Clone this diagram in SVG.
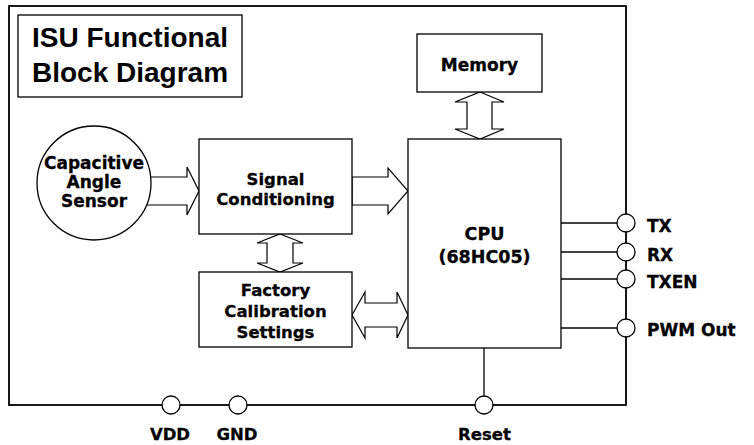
<svg xmlns="http://www.w3.org/2000/svg" width="754" height="445" viewBox="0 0 754 445">
<style>
.box{fill:#fff;stroke:#000;stroke-width:1.3}
.arr{fill:#fff;stroke:#000;stroke-width:1.2;stroke-linejoin:miter}
.ln{stroke:#000;stroke-width:1.3;fill:none}
.pin{fill:#fff;stroke:#000;stroke-width:1.3}
.t{font-family:"DejaVu Sans",Verdana,sans-serif;font-weight:bold;font-size:16.5px;text-anchor:middle;fill:#000;stroke:#000;stroke-width:0.3}
.pl{font-family:"DejaVu Sans",Verdana,sans-serif;font-weight:bold;font-size:17px;fill:#000;stroke:#000;stroke-width:0.3}
.title{font-family:"Liberation Sans",Arial,sans-serif;font-weight:bold;font-size:28px;text-anchor:middle;fill:#000}
</style>
<rect width="754" height="445" fill="#fff"/>
<g id="border"><rect x="9" y="6" width="617" height="399" fill="none" stroke="#000" stroke-width="1.8"/></g>
<g id="title"><rect x="18" y="15" width="224" height="82" class="box"/>
<text class="title" x="130" y="47">ISU Functional</text>
<text class="title" x="130" y="82">Block Diagram</text></g>
<g id="connectors">
<polygon class="arr" points="145,177 187,177 187,167 199,191 187,215 187,205 145,205"/>
<polygon class="arr" points="352,177 388,177 388,168 408,191 388,214 388,205 352,205"/>
<polygon class="arr" points="480,92 504,102 492,102 492,129 504,129 480,139 455,129 467,129 467,102 455,102"/>
<polygon class="arr" points="280,234 303,243 293,243 293,263 303,263 280,272 257,263 267,263 267,243 257,243"/>
<polygon class="arr" points="352,315 365,292 365,303 397,303 397,292 408,315 397,338 397,327 365,327 365,338"/>
<line class="ln" x1="561" y1="223" x2="626" y2="223"/>
<line class="ln" x1="561" y1="252" x2="626" y2="252"/>
<line class="ln" x1="561" y1="279" x2="626" y2="279"/>
<line class="ln" x1="561" y1="328" x2="626" y2="328"/>
<line class="ln" x1="484" y1="348" x2="484" y2="405"/>
</g>
<g id="sensor"><circle cx="94" cy="183" r="57" class="box"/>
<text class="t" x="94" y="169" style="font-size:17px">Capacitive</text>
<text class="t" x="94" y="188" style="font-size:17px">Angle</text>
<text class="t" x="94" y="207" style="font-size:17px">Sensor</text></g>
<g id="signal"><rect x="199" y="139" width="153" height="95" class="box"/>
<text class="t" x="275.5" y="185">Signal</text>
<text class="t" x="275.5" y="205">Conditioning</text></g>
<g id="factory"><rect x="199" y="272" width="153" height="75" class="box"/>
<text class="t" x="275.5" y="296">Factory</text>
<text class="t" x="275.5" y="317">Calibration</text>
<text class="t" x="275.5" y="338">Settings</text></g>
<g id="memory"><rect x="417" y="34" width="125" height="58" class="box"/>
<text class="t" x="479.5" y="71" style="font-size:17px">Memory</text></g>
<g id="cpu"><rect x="408" y="139" width="153" height="209" class="box"/>
<text class="t" x="484.5" y="240" style="font-size:17.5px">CPU</text>
<text class="t" x="484.5" y="263" style="font-size:17.5px">(68HC05)</text></g>
<g id="pin-tx"><circle class="pin" cx="626" cy="223" r="9"/><text class="pl" x="647" y="232">TX</text></g>
<g id="pin-rx"><circle class="pin" cx="626" cy="252" r="9"/><text class="pl" x="647" y="261">RX</text></g>
<g id="pin-txen"><circle class="pin" cx="626" cy="279" r="9"/><text class="pl" x="647" y="288">TXEN</text></g>
<g id="pin-pwm"><circle class="pin" cx="626" cy="328" r="9"/><text class="pl" x="647" y="336">PWM Out</text></g>
<g id="pin-vdd"><circle class="pin" cx="171" cy="405" r="9"/><text class="t" x="170" y="440">VDD</text></g>
<g id="pin-gnd"><circle class="pin" cx="238" cy="405" r="9"/><text class="t" x="237" y="440">GND</text></g>
<g id="pin-reset"><circle class="pin" cx="484" cy="405" r="9"/><text class="t" x="484.5" y="440">Reset</text></g>
</svg>
